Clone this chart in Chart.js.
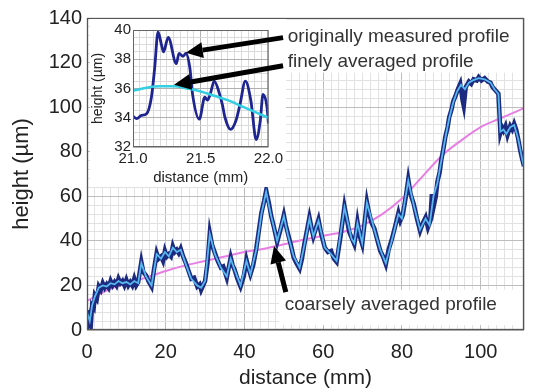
<!DOCTYPE html>
<html><head><meta charset="utf-8">
<script src="https://cdn.jsdelivr.net/npm/chart.js@4"></script>
<style>
html,body{margin:0;padding:0;background:#fff;}
#wrap{position:relative;width:534px;height:392px;overflow:hidden;background:#fff;}
#wrap canvas{position:absolute;}
</style></head><body>
<div id="wrap">
<canvas id="main" width="534" height="392" style="left:0;top:0;width:534px;height:392px"></canvas>
<canvas id="inset" width="196" height="168" style="left:90px;top:19px;width:196px;height:168px"></canvas>
<canvas id="over" width="534" height="392" style="left:0;top:0;width:534px;height:392px"></canvas>
</div>
<script>
// ---------- data (distance mm, height µm) ----------
const mainXTicks = [0, 20, 40, 60, 80, 100];
const mainYTicks = [0, 20, 40, 60, 80, 100, 120, 140];
const insetXTicks = [21.0, 21.5, 22.0];
const insetYTicks = [32, 34, 36, 38, 40];

const measuredProfile = [[0,9],[0.3,3],[0.7,6],[1,3],[1.3,11],[1.7,10],[2,15.5],[2.5,14],[3,19.5],[3.5,18],[4,21],[4.5,19],[5,20.5],[5.5,19],[6,22],[6.5,20],[7,21.5],[7.5,20],[8,23],[8.5,21],[9,22],[9.5,20],[10,22.5],[10.5,20],[11,21.5],[11.5,20],[12,23],[12.5,20],[13,21.5],[13.8,30.5],[14.3,26],[15,24.5],[15.6,22],[16.4,19.5],[17,27],[17.7,34.5],[18.2,32],[18.8,33],[19.3,31],[19.8,35.5],[20.3,33],[20.8,34],[21.3,33],[21.8,37.5],[22.3,35],[22.8,36],[23.3,34.5],[23.8,36.5],[24.4,33],[25,30.5],[26.5,23],[27.2,23.5],[28,19.5],[28.6,20.5],[29,18],[30,22],[30.6,30],[31.2,43.5],[31.8,38],[32.5,34.5],[33.2,31],[34,28],[34.6,28.5],[35.5,23.5],[36.5,32.5],[37,29],[37.5,27],[38.2,23],[39,19.5],[39.8,24],[40.5,31.5],[41,28],[41.5,25],[42.2,29],[43,36.5],[43.6,44],[44.3,52.5],[45,58],[45.5,62.5],[46.2,57],[46.8,51],[47.5,46],[48.3,39.5],[49,44],[50,51.5],[50.5,47],[51,43.5],[51.8,38],[52.5,32.5],[53.2,30],[54,27.5],[54.6,32],[55.2,38.5],[55.8,44],[56.5,50.5],[57,46],[57.5,42],[58.2,46],[58.8,49.5],[59.5,43],[60.4,37],[61.2,35],[62,35.5],[62.7,32],[63.4,30.5],[64.4,42],[65.4,55.5],[66,50],[66.6,44],[67.2,41.5],[67.9,38.5],[68.3,43],[68.7,48.5],[69.3,42],[69.9,38.5],[70.5,48],[71.1,57.5],[71.7,52],[72.3,48],[73,45.5],[73.8,40],[74.5,35.5],[75.2,33],[75.9,29.5],[76.6,36],[77.4,40.5],[78.2,46],[79.1,52.5],[79.6,49],[80.2,51.5],[81,60],[81.6,67.5],[82.2,61],[83,56.5],[83.8,50],[84.6,44.5],[85.3,48],[86,50.5],[86.6,46],[87.2,49],[87.6,61],[88,55],[88.6,60],[89,66.5],[89.6,71],[90,76.5],[90.6,82],[91,86.5],[91.6,91],[92,95.5],[92.6,99],[93,102.5],[93.6,105],[94.2,108],[94.8,110.5],[95.4,103],[95.7,100.5],[96.2,109],[97,111.5],[97.6,110.5],[98.2,112.5],[99,112],[99.5,113.5],[100.2,112],[101,113],[101.8,111.5],[102.5,111],[103,109],[103.5,108],[104,107],[104.5,106],[104.8,96],[105,88.5],[105.4,91],[105.8,89.5],[106.3,91.5],[106.8,87.5],[107.5,91.5],[108,90],[108.5,92.5],[109,90],[109.5,86],[110,81],[110.5,77],[111,73.5]];

const fineProfile = [[0,8],[0.7,4],[1.3,11],[2,15],[3,19],[4,20],[5,19.5],[6,21],[7,20.5],[8,22],[9,21],[10,21.5],[11,20.5],[12,22],[13,21],[13.8,30],[15,24],[16.4,20],[17.7,34],[18.8,32],[19.8,35],[20.8,33],[21.8,37],[22.8,35],[23.8,36],[25,30],[26.5,23],[28,20],[29,19],[30,22],[31.2,43],[32.5,34],[34,28],[35.5,24],[36.5,32],[37.5,27],[39,20],[40.5,31],[41.5,25],[43,36],[44.3,52],[45.5,62],[46.8,51],[48.3,40],[50,51],[51,43],[52.5,33],[54,28],[55.2,38],[56.5,50],[57.5,42],[58.8,49],[60.4,37],[62,34],[63.4,31],[65.4,55],[67.2,41],[67.9,39],[68.7,48],[69.9,39],[71.1,57],[73,45],[74.5,36],[75.9,30],[77.4,40],[79.1,52],[80,50],[81.6,67],[83,56],[84.6,45],[86,50],[87,47],[88,60],[89,66],[90,76],[91,86],[92,95],[93,102],[94,107],[95,110],[96,108],[97,111],[98,112],[99.5,113],[101,112.5],[102.5,111],[103.5,108],[104.5,106],[105,89],[105.8,90],[106.5,88],[107.5,91],[108.5,92],[109.5,86],[110.5,77],[111,73]];

const coarseProfile = [[0,13],[3,16],[6,18.5],[10,21],[15,23.5],[20,26.5],[25,29],[30,31],[35,33],[40,35],[45,36.5],[50,38.5],[55,40.5],[60,42.3],[65,44],[70,47],[75,52],[80,59],[85,68.5],[90,78],[95,85],[100,91],[105,95],[111,99.5]];

const insetMeasured = [[21.0,34.1],[21.027,33.94],[21.063,34.16],[21.10,34.27],[21.136,35.4],[21.16,37.4],[21.185,39.87],[21.21,39.0],[21.225,38.5],[21.26,39.5],[21.32,37.7],[21.34,38.4],[21.37,38.2],[21.39,38.4],[21.42,37.4],[21.44,35.6],[21.49,33.9],[21.53,35.4],[21.55,35.2],[21.57,35.6],[21.60,36.5],[21.64,35.6],[21.66,34.9],[21.68,34.0],[21.72,33.2],[21.76,33.8],[21.79,34.9],[21.83,36.5],[21.87,35.2],[21.91,32.5],[21.94,33.8],[21.96,35.6],[21.99,34.7],[22.0,33.6]];

const insetFine = [[21.0,35.85],[21.1,36.05],[21.2,36.15],[21.3,36.15],[21.4,36.0],[21.5,35.8],[21.6,35.5],[21.7,35.2],[21.8,34.8],[21.9,34.4],[22.0,34.0]];

const annotations = [
  {text:'originally measured profile', x:51.0, y:131.6, tail:[49.8,131.2], tip:[25.1,124.4]},
  {text:'finely averaged profile', x:51.0, y:120.4, tail:[49.8,118.6], tip:[22.1,110.0]},
  {text:'coarsely averaged profile', x:50.2, y:11.2, tail:[50.5,17], tip:[47.5,37.7]}
];
// white label boxes in data units [x0, y0, x1, y1]
const labelBoxes = [[49.25,139.5,110.8,115.5],[48.8,18,110.8,2.2]];

// ---------- helpers ----------
const FONT = '"Liberation Sans", Arial, Helvetica, sans-serif';
const pts = arr => arr.map(p => ({x:p[0], y:p[1]}));
const near = (v, list) => list.some(t => Math.abs(v - t) < 1e-6);
Chart.defaults.font.family = FONT;
Chart.defaults.color = '#222';

const mainPlugin = {
  id: 'mainDeco',
  beforeDatasetsDraw(chart) {
    const {ctx, scales:{x, y}} = chart;
    ctx.save();
    ctx.fillStyle = '#ffffff';
    labelBoxes.forEach(b => {
      const x0 = x.getPixelForValue(b[0]), x1 = x.getPixelForValue(b[2]);
      const y0 = y.getPixelForValue(b[1]), y1 = y.getPixelForValue(b[3]);
      ctx.fillRect(x0, y0, x1 - x0, y1 - y0);
    });
    ctx.restore();
  },
  afterDatasetsDraw(chart) {
    const {ctx, chartArea:a} = chart;
    ctx.save();
    ctx.strokeStyle = '#555';
    ctx.lineWidth = 1.3;
    ctx.strokeRect(a.left + 0.5, a.top + 0.5, a.right - a.left - 1, a.bottom - a.top - 1);
    ctx.restore();
  }
};

const mainChart = new Chart(document.getElementById('main'), {
  type: 'line',
  data: {
    datasets: [
      {label:'finely averaged profile', data: pts(fineProfile), borderColor:'#58b8ee', borderWidth:1.8, pointRadius:0, tension:0, order:1},
      {label:'originally measured profile', data: pts(measuredProfile), borderColor:'#1c2a80', borderWidth:4.5, pointRadius:0, tension:0, order:2},
      {label:'coarsely averaged profile', data: pts(coarseProfile), borderColor:'#e77ee4', borderWidth:2, pointRadius:0, tension:0.4, cubicInterpolationMode:'monotone', order:3}
    ]
  },
  options: {
    responsive:false, animation:false, parsing:true,
    layout:{padding:{top:18, right:1, left:0, bottom:0}},
    plugins:{legend:{display:false}, tooltip:{enabled:false}},
    scales:{
      x:{type:'linear', min:0, max:111,
        afterFit(s){ s.height = 62; },
        ticks:{stepSize:2, autoSkip:false, maxRotation:0, padding:10, font:{size:20}, color:'#222',
          callback:v => near(v, mainXTicks) ? String(Math.round(v)) : ''},
        grid:{drawTicks:false, color:c => (c.tick && near(c.tick.value % 20, [0])) ? '#bdbdbd' : '#e2e2e2', lineWidth:1},
        border:{display:false},
        title:{display:true, text:'distance (mm)', font:{size:21}, color:'#222', padding:{top:0, bottom:1}}
      },
      y:{type:'linear', min:0, max:140,
        afterFit(s){ s.width = 87; },
        ticks:{stepSize:4, autoSkip:false, padding:5, font:{size:20}, color:'#222',
          callback:v => near(v, mainYTicks) ? String(Math.round(v)) : ''},
        grid:{drawTicks:false, color:c => (c.tick && near(c.tick.value % 20, [0])) ? '#bdbdbd' : '#e2e2e2', lineWidth:1},
        border:{display:false},
        title:{display:true, text:'height (µm)', font:{size:22}, color:'#222', padding:{top:9}}
      }
    }
  },
  plugins:[mainPlugin]
});

const insetPlugin = {
  id: 'insetDeco',
  beforeDraw(chart) {
    const {ctx} = chart;
    ctx.save();
    ctx.fillStyle = '#ffffff';
    ctx.fillRect(0, 0, chart.width, chart.height);
    ctx.restore();
  },
  afterDatasetsDraw(chart) {
    const {ctx, chartArea:a} = chart;
    ctx.save();
    ctx.strokeStyle = '#666';
    ctx.lineWidth = 1;
    ctx.strokeRect(a.left + 0.5, a.top + 0.5, a.right - a.left - 1, a.bottom - a.top - 1);
    ctx.restore();
  }
};

const insetChart = new Chart(document.getElementById('inset'), {
  type:'line',
  data:{
    datasets:[
      {label:'finely averaged', data: pts(insetFine), borderColor:'#33cfe3', borderWidth:2.5, pointRadius:0, tension:0.4, cubicInterpolationMode:'monotone', order:1},
      {label:'measured', data: pts(insetMeasured), borderColor:'#1e2490', borderWidth:2.8, pointRadius:0, tension:0.4, cubicInterpolationMode:'monotone', order:2}
    ]
  },
  options:{
    responsive:false, animation:false,
    layout:{padding:{top:9, right:16, left:0, bottom:0}},
    plugins:{legend:{display:false}, tooltip:{enabled:false}},
    scales:{
      x:{type:'linear', min:21, max:22,
        afterFit(s){ s.height = 40; },
        ticks:{stepSize:0.05, autoSkip:false, maxRotation:0, padding:3, font:{size:15}, color:'#222',
          callback:v => near(v, insetXTicks) ? v.toFixed(1) : ''},
        grid:{drawTicks:false, color:c => (c.tick && near(c.tick.value, insetXTicks)) ? '#b0b0b0' : '#dadada', lineWidth:1},
        border:{display:false},
        title:{display:true, text:'distance (mm)', font:{size:15}, color:'#222', padding:{top:0, bottom:0}}
      },
      y:{type:'linear', min:32, max:40,
        afterFit(s){ s.width = 43; },
        ticks:{stepSize:0.5, autoSkip:false, padding:2, font:{size:15}, color:'#222',
          callback:v => near(v, insetYTicks) ? String(Math.round(v)) : ''},
        grid:{drawTicks:false, color:c => (c.tick && near(c.tick.value, insetYTicks)) ? '#b0b0b0' : '#dadada', lineWidth:1},
        border:{display:false},
        title:{display:true, text:'height (µm)', font:{size:14}, color:'#222', padding:{top:0}}
      }
    }
  },
  plugins:[insetPlugin]
});

// ---------- annotations (arrows + text) on the overlay ----------
(function drawAnnotations(){
  const cv = document.getElementById('over');
  const ctx = cv.getContext('2d');
  const sx = mainChart.scales.x, sy = mainChart.scales.y;
  const P = p => [sx.getPixelForValue(p[0]), sy.getPixelForValue(p[1])];
  ctx.fillStyle = '#000';
  ctx.strokeStyle = '#000';
  annotations.forEach(a => {
    const [x0, y0] = P(a.tail), [x1, y1] = P(a.tip);
    const ang = Math.atan2(y1 - y0, x1 - x0);
    const headLen = 17, headW = 8;
    const bx = x1 - headLen * Math.cos(ang), by = y1 - headLen * Math.sin(ang);
    ctx.lineWidth = 5;
    ctx.lineCap = 'butt';
    ctx.beginPath(); ctx.moveTo(x0, y0); ctx.lineTo(bx, by); ctx.stroke();
    ctx.beginPath();
    ctx.moveTo(x1, y1);
    ctx.lineTo(bx + headW * Math.sin(ang), by - headW * Math.cos(ang));
    ctx.lineTo(bx - headW * Math.sin(ang), by + headW * Math.cos(ang));
    ctx.closePath(); ctx.fill();
  });
  ctx.font = '19px ' + FONT;
  ctx.fillStyle = '#333';
  ctx.textBaseline = 'middle';
  ctx.textAlign = 'left';
  annotations.forEach(a => {
    const [tx, ty] = P([a.x, a.y]);
    ctx.fillText(a.text, tx, ty);
  });
})();
</script>
</body></html>
